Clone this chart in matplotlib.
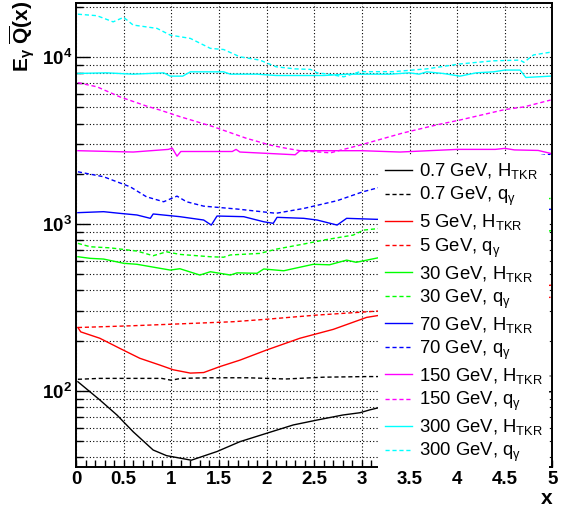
import numpy as np
import matplotlib
matplotlib.use('Agg')
import matplotlib.pyplot as plt
from matplotlib.ticker import FixedLocator, MultipleLocator, NullFormatter

plt.rcParams['font.family'] = ['Liberation Sans', 'DejaVu Sans']
plt.rcParams['mathtext.fontset'] = 'custom'
plt.rcParams['mathtext.rm'] = 'Liberation Sans'
plt.rcParams['mathtext.it'] = 'Liberation Sans:italic'
plt.rcParams['mathtext.bf'] = 'Liberation Sans:bold'

# E*Qbar(x) for each beam energy, H_TKR (solid) and q_gamma (dashed)
x07_h = [0.02, 0.25, 0.43, 0.6, 0.81, 0.95, 1.21, 1.48, 1.72, 2.0, 2.28, 2.53, 2.8, 2.98, 3.08, 3.2, 3.6, 4.0, 4.4, 4.8, 4.98]
y07_h = [113.6, 88.4, 71.8, 57, 44.3, 41, 38.5, 43.4, 49.7, 55.8, 62.6, 67, 71.8, 74.1, 77, 80, 85, 89, 93, 97, 99]
x07_q = [0.02, 0.25, 0.6, 0.9, 1.0, 1.1, 1.4, 1.8, 2.2, 2.6, 3.05, 3.5, 4.0, 4.5, 4.98]
y07_q = [117.5, 119, 119, 119, 116, 119, 120, 120, 118, 121, 122, 122, 123, 123, 123]

x5_h = [0.02, 0.05, 0.25, 0.46, 0.67, 0.88, 1.02, 1.2, 1.34, 1.51, 1.72, 2.0, 2.35, 2.7, 3.05, 3.2, 3.6, 4.0, 4.4, 4.8, 4.98]
y5_h = [240, 226, 207, 180, 157, 143, 134, 128, 129, 140, 153, 176, 207, 234, 276, 285, 320, 355, 390, 420, 430]
x5_q = [0.02, 0.6, 1.06, 1.65, 2.0, 2.53, 3.05, 3.2, 3.6, 4.0, 4.5, 4.98]
y5_q = [240, 246, 252, 260, 269, 285, 298, 302, 315, 330, 348, 364]

x30_h = [0.02, 0.15, 0.29, 0.5, 0.64, 0.85, 0.99, 1.09, 1.3, 1.41, 1.62, 1.69, 1.9, 1.97, 2.18, 2.49, 2.66, 2.84, 2.94, 3.19, 3.6, 4.0, 4.5, 4.98]
y30_h = [637, 623, 617, 582, 574, 547, 530, 540, 495, 518, 495, 510, 507, 538, 525, 574, 570, 608, 590, 631, 690, 760, 840, 912]
x30_q = [0.02, 0.15, 0.36, 0.64, 0.81, 0.95, 1.09, 1.41, 1.55, 1.62, 1.93, 2.1, 2.39, 2.6, 2.91, 3.02, 3.19, 3.6, 4.0, 4.5, 4.98]
y30_q = [766, 731, 720, 689, 646, 682, 658, 637, 633, 653, 667, 707, 759, 802, 859, 920, 942, 1040, 1150, 1290, 1425]

x70_h = [0.02, 0.29, 0.46, 0.64, 0.78, 0.81, 1.09, 1.34, 1.42, 1.48, 1.76, 1.97, 2.07, 2.11, 2.39, 2.53, 2.74, 2.84, 3.16, 3.6, 4.0, 4.5, 4.98]
y70_h = [1170, 1186, 1159, 1133, 1082, 1149, 1107, 1057, 986, 1117, 1107, 1032, 1010, 1097, 1082, 1057, 986, 1082, 1067, 1100, 1140, 1185, 1225]
x70_q = [0.02, 0.29, 0.57, 0.74, 0.92, 1.06, 1.16, 1.34, 1.69, 2.1, 2.39, 2.74, 3.01, 3.5, 4.0, 4.5, 4.98]
y70_q = [2056, 1920, 1670, 1456, 1360, 1470, 1360, 1280, 1230, 1160, 1240, 1380, 1560, 1850, 2150, 2400, 2620]

x150_h = [0.02, 0.6, 0.97, 1.01, 1.06, 1.1, 1.64, 1.68, 1.72, 2.3, 2.35, 3.0, 3.4, 3.7, 4.0, 4.4, 4.5, 4.6, 4.85, 4.98]
y150_h = [2750, 2700, 2800, 2850, 2550, 2720, 2720, 2800, 2700, 2600, 2750, 2750, 2700, 2750, 2800, 2800, 2840, 2780, 2760, 2650]
x150_q = [0.02, 0.22, 0.46, 0.74, 0.88, 1.09, 1.44, 1.79, 2.04, 2.21, 2.35, 2.67, 2.98, 3.43, 3.78, 4.03, 4.5, 4.7, 4.98]
y150_q = [7020, 6640, 5780, 5090, 4820, 4400, 3830, 3260, 2970, 2840, 2750, 2670, 2970, 3510, 3920, 4200, 4850, 5030, 5530]

x300_h = [0.02, 0.32, 0.6, 0.92, 0.99, 1.12, 1.2, 1.55, 1.62, 1.9, 2.1, 2.6, 2.85, 3.3, 3.5, 3.6, 3.68, 3.85, 4.03, 4.2, 4.38, 4.5, 4.66, 4.72, 4.98]
y300_h = [7980, 8050, 7900, 8050, 7690, 7690, 8160, 8160, 7900, 7900, 7760, 7760, 7900, 7900, 8050, 7900, 8160, 7980, 7690, 8050, 8160, 8360, 8360, 7550, 7690]
x300_q = [0.02, 0.22, 0.39, 0.5, 0.6, 0.85, 0.99, 1.2, 1.41, 1.55, 1.72, 1.93, 2.1, 2.3, 2.46, 2.53, 2.65, 2.81, 2.98, 3.33, 3.68, 4.03, 4.38, 4.66, 4.7, 4.8, 4.98]
y300_q = [18070, 17700, 16260, 17300, 15560, 14860, 13540, 12940, 11280, 11100, 10040, 9590, 8750, 8500, 8440, 8050, 7900, 7620, 8180, 8180, 8500, 9100, 9500, 9590, 9300, 10300, 10700]

energies = ['0.7', '5', '30', '70', '150', '300']
colors = ['black', '#ff0000', '#00ff00', '#0000ff', '#ff00ff', '#00ffff']
curves_h = [(x07_h, y07_h), (x5_h, y5_h), (x30_h, y30_h), (x70_h, y70_h), (x150_h, y150_h), (x300_h, y300_h)]
curves_q = [(x07_q, y07_q), (x5_q, y5_q), (x30_q, y30_q), (x70_q, y70_q), (x150_q, y150_q), (x300_q, y300_q)]

xticks = [0, 0.5, 1, 1.5, 2, 2.5, 3, 3.5, 4, 4.5, 5]
xticklabels = ['0', '0.5', '1', '1.5', '2', '2.5', '3', '3.5', '4', '4.5', '5']
yticks = [1e2, 1e3, 1e4]
yticklabels = [r'$\mathbf{10^{2}}$', r'$\mathbf{10^{3}}$', r'$\mathbf{10^{4}}$']

fig = plt.figure(figsize=(5.67, 5.08), dpi=100)
ax = fig.add_axes([0.134, 0.0813, 0.8404, 0.9122])

for e, c, (xh, yh), (xq, yq) in zip(energies, colors, curves_h, curves_q):
    ax.plot(xh, yh, color=c, lw=1.0, label=e + r' GeV, $\mathregular{H_{TKR}}$')
    ax.plot(xq, yq, color=c, lw=1.0, ls=(0, (3, 2)), label=e + r' GeV, $\mathregular{q_{\gamma}}$')

ax.set_yscale('log')
ax.set_xlim(0, 5)
ax.set_ylim(35.2, 21000)

ax.xaxis.set_major_locator(FixedLocator(xticks))
ax.xaxis.set_minor_locator(MultipleLocator(0.1))
ax.set_xticklabels(xticklabels, fontsize=13.5, fontweight='bold')
ax.yaxis.set_major_locator(FixedLocator(yticks))
minors = [m * 10**d for d in range(1, 5) for m in range(2, 10)]
ax.yaxis.set_minor_locator(FixedLocator(minors))
ax.yaxis.set_minor_formatter(NullFormatter())
ax.set_yticklabels(yticklabels, fontsize=13.5)

ax.tick_params(axis='x', which='both', direction='in', length=5, width=1, top=False, pad=3)
ax.tick_params(axis='y', which='major', direction='in', length=10, width=1, right=False, pad=3)
ax.tick_params(axis='y', which='minor', direction='in', length=5, width=1, right=False)

ax.grid(axis='x', which='major', color='black', ls=(0, (1, 2)), lw=0.8)
ax.grid(axis='y', which='both', color='black', ls=(0, (1, 2)), lw=0.8)

for s in ax.spines.values():
    s.set_linewidth(1.4)

ax.set_xlabel('x', fontsize=15, fontweight='bold', loc='right')
ax.xaxis.set_label_coords(1.0, -0.0805)
ax.xaxis.label.set_verticalalignment('baseline')
ax.set_ylabel(r'$\mathbf{E_{\gamma}\ \overline{Q}(x)}$', fontsize=15, loc='top')
ax.yaxis.set_label_coords(-0.082, 1.005)

leg = ax.legend(loc='upper left', bbox_to_anchor=(0.634, 0.673), fontsize=13.3,
                frameon=True, fancybox=False, framealpha=1, edgecolor='none',
                facecolor='white', handlelength=1.5, handletextpad=0.35,
                labelspacing=0.215, borderpad=0.35, borderaxespad=0)
leg.set_zorder(5)

fig.savefig('out.png', dpi=100)
